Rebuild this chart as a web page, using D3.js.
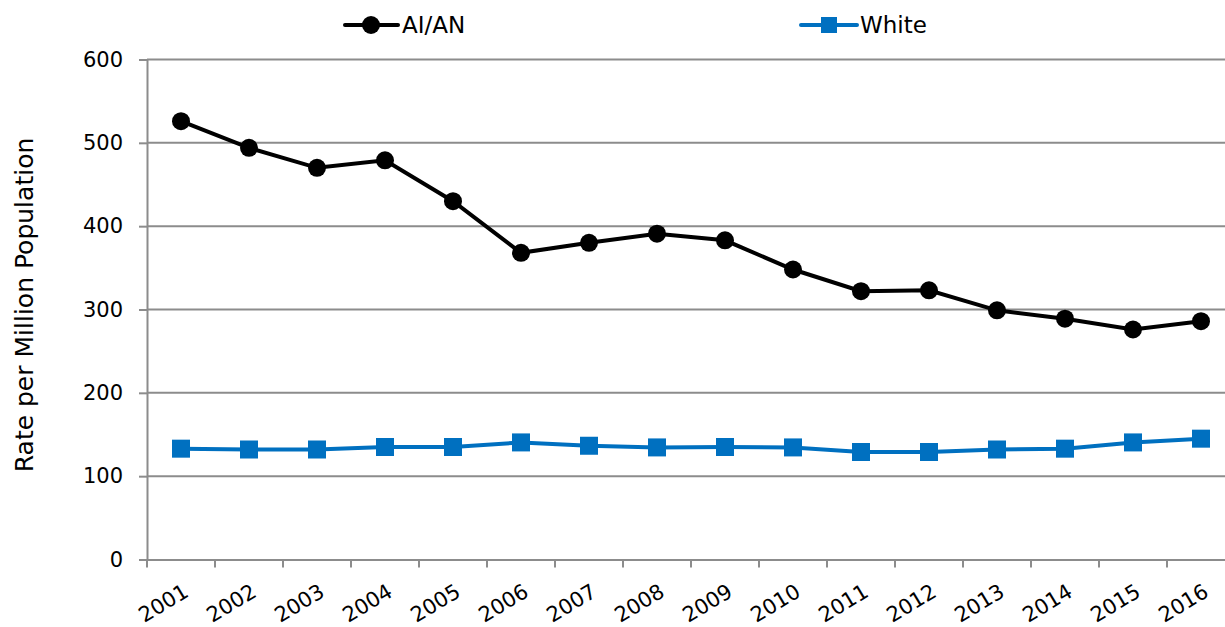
<!DOCTYPE html>
<html>
<head>
<meta charset="utf-8">
<script src="https://cdn.jsdelivr.net/npm/d3@7"></script>
<style>
  html, body { margin: 0; padding: 0; background: #fff; }
  svg { display: block; font-family: "DejaVu Sans", sans-serif; }
</style>
</head>
<body>
<svg id="chart" width="1225" height="627"></svg>
<script>
const years = ["2001","2002","2003","2004","2005","2006","2007","2008","2009","2010","2011","2012","2013","2014","2015","2016"];
const aian  = [526, 494, 470, 479, 430, 368, 380, 391, 383, 348, 322, 323, 299, 289, 276, 286];
const white = [133, 132, 132, 135, 135, 140.5, 136.5, 134.5, 135, 134.5, 129, 129, 132, 133, 140.5, 145];
const yTicks = [0, 100, 200, 300, 400, 500, 600];
const seriesNames = ["AI/AN", "White"];
const seriesColors = ["#000000", "#0070C0"];

const svg = d3.select("#chart");
const mLeft = 147, mRight = 1235, mTop = 59.5, mBottom = 559.5;
const FONT = "'DejaVu Sans', sans-serif";

const x = d3.scaleBand().domain(years).range([mLeft, mRight]).padding(0);
const y = d3.scaleLinear().domain([0, 600]).range([mBottom, mTop]);

// gridlines
svg.append("g")
  .selectAll("line")
  .data(yTicks.filter(d => d > 0))
  .join("line")
  .attr("x1", mLeft).attr("x2", mRight)
  .attr("y1", d => y(d)).attr("y2", d => y(d))
  .attr("stroke", "#8c8c8c").attr("stroke-width", 2);

// y axis
const yAxis = svg.append("g")
  .attr("transform", `translate(${mLeft},0)`)
  .call(d3.axisLeft(y).tickValues(yTicks).tickSize(8).tickPadding(16));
yAxis.select(".domain").attr("stroke", "#8c8c8c").attr("stroke-width", 2);
yAxis.selectAll(".tick line").attr("stroke", "#8c8c8c").attr("stroke-width", 2);
yAxis.selectAll(".tick text").attr("font-size", 21).attr("fill", "#000")
  .attr("font-family", FONT);

// x axis
const xAxis = svg.append("g")
  .attr("transform", `translate(0,${mBottom})`)
  .call(d3.axisBottom(x).tickSize(0).tickFormat(d => d));
xAxis.select(".domain").attr("stroke", "#8c8c8c").attr("stroke-width", 2);
xAxis.selectAll(".tick text")
  .attr("font-size", 21).attr("fill", "#000")
  .attr("font-family", FONT)
  .attr("text-anchor", "end")
  .attr("dy", null).attr("y", 0)
  .attr("transform", "translate(9,36) rotate(-31)");
// band-boundary ticks
svg.append("g")
  .selectAll("line")
  .data(years)
  .join("line")
  .attr("x1", d => x(d)).attr("x2", d => x(d))
  .attr("y1", mBottom).attr("y2", mBottom + 8)
  .attr("stroke", "#8c8c8c").attr("stroke-width", 2);

// y axis title
svg.append("text")
  .attr("transform", `translate(33,305) rotate(-90)`)
  .attr("text-anchor", "middle")
  .attr("font-size", 25)
  .attr("font-family", FONT)
  .attr("fill", "#000")
  .text("Rate per Million Population");

const cx = d => x(d) + x.bandwidth() / 2;

// lines
const line = d3.line().x((d, i) => cx(years[i])).y(d => y(d));
svg.append("path").datum(white).attr("d", line)
  .attr("fill", "none").attr("stroke", seriesColors[1]).attr("stroke-width", 4);
svg.append("path").datum(aian).attr("d", line)
  .attr("fill", "none").attr("stroke", seriesColors[0]).attr("stroke-width", 4);

// markers
svg.append("g").selectAll("rect").data(white).join("rect")
  .attr("x", (d, i) => cx(years[i]) - 9).attr("y", d => y(d) - 9)
  .attr("width", 18).attr("height", 18).attr("fill", seriesColors[1]);
svg.append("g").selectAll("circle").data(aian).join("circle")
  .attr("cx", (d, i) => cx(years[i])).attr("cy", d => y(d))
  .attr("r", 9).attr("fill", seriesColors[0]);

// legend
const lg = svg.append("g").attr("font-family", FONT);
lg.append("line").attr("x1", 345).attr("x2", 398).attr("y1", 25).attr("y2", 25)
  .attr("stroke", seriesColors[0]).attr("stroke-width", 4).attr("stroke-linecap", "round");
lg.append("circle").attr("cx", 371).attr("cy", 25).attr("r", 9).attr("fill", seriesColors[0]);
lg.append("text").attr("x", 402).attr("y", 33).attr("font-size", 23).attr("fill", "#000").text(seriesNames[0]);
lg.append("line").attr("x1", 801).attr("x2", 857).attr("y1", 25).attr("y2", 25)
  .attr("stroke", seriesColors[1]).attr("stroke-width", 4).attr("stroke-linecap", "round");
lg.append("rect").attr("x", 821).attr("y", 17).attr("width", 16).attr("height", 16).attr("fill", seriesColors[1]);
lg.append("text").attr("x", 860).attr("y", 33).attr("font-size", 23).attr("fill", "#000").text(seriesNames[1]);
</script>
</body>
</html>
